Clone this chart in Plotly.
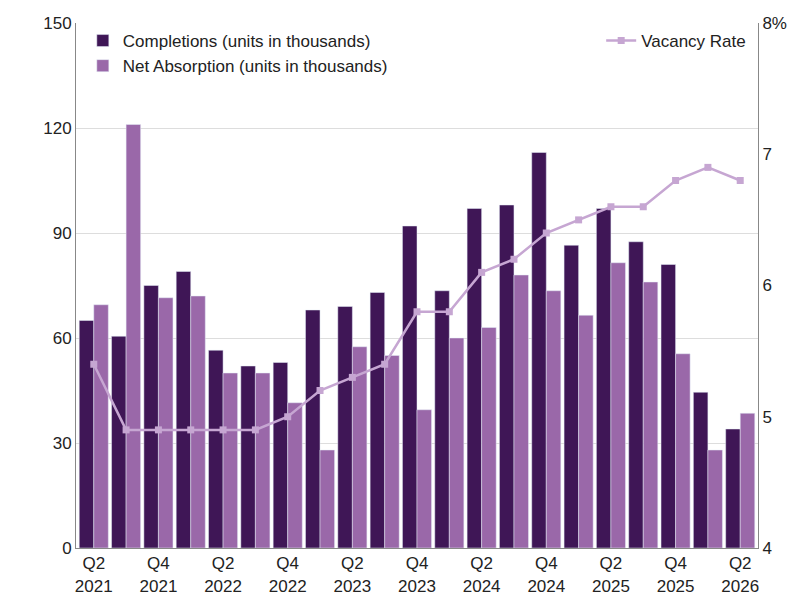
import plotly.graph_objects as go

quarters = ["Q2 2021","Q3 2021","Q4 2021","Q1 2022","Q2 2022","Q3 2022","Q4 2022",
            "Q1 2023","Q2 2023","Q3 2023","Q4 2023","Q1 2024","Q2 2024","Q3 2024",
            "Q4 2024","Q1 2025","Q2 2025","Q3 2025","Q4 2025","Q1 2026","Q2 2026"]
completions = [65,60.5,75,79,56.5,52,53,68,69,73,92,73.5,97,98,113,86.5,97,87.5,81,44.5,34]
absorption = [69.5,121,71.5,72,50,50,41.5,28,57.5,55,39.5,60,63,78,73.5,66.5,81.5,76,55.5,28,38.5]
vacancy = [5.4,4.9,4.9,4.9,4.9,4.9,5.0,5.2,5.3,5.4,5.8,5.8,6.1,6.2,6.4,6.5,6.6,6.6,6.8,6.9,6.8]

tickvals = quarters[::2]
ticktext = [q.replace(" ", "<br>") for q in tickvals]

fig = go.Figure()
fig.add_bar(x=quarters, y=completions, name="Completions (units in thousands)",
            marker_color="#3f1656", legend="legend")
fig.add_bar(x=quarters, y=absorption, name="Net Absorption (units in thousands)",
            marker_color="#9a68a9", legend="legend")
fig.add_scatter(x=quarters, y=vacancy, name="Vacancy Rate", yaxis="y2", mode="lines+markers",
                line=dict(color="#c6a6d2", width=2.5), marker=dict(symbol="square", size=7),
                legend="legend2")

font = dict(family="Liberation Sans, Arial", size=17, color="#222")
fig.update_layout(
    width=807, height=594, barmode="group", bargap=0.1, bargroupgap=0,
    plot_bgcolor="white", paper_bgcolor="white", font=font,
    margin=dict(l=68, r=57, t=15, b=54),
    xaxis=dict(tickmode="array", tickvals=tickvals, ticktext=ticktext, range=[-0.55, 20.55],
               showline=True, linecolor="#888", ticks="", tickfont=font, automargin=False),
    yaxis=dict(range=[0,150], dtick=30, showgrid=True, gridcolor="#ddd", automargin=False,
               showline=True, linecolor="#888", zeroline=False, tickfont=font),
    yaxis2=dict(range=[4,8], dtick=1, overlaying="y", side="right", showgrid=False, automargin=False,
                showline=True, linecolor="#888", tickvals=[4,5,6,7,8],
                ticktext=["4","5","6","7","8%"], tickfont=font),
    legend=dict(x=0.01, y=1.0, xanchor="left", yanchor="top", bgcolor="rgba(0,0,0,0)",
                font=dict(family="Liberation Sans, Arial", size=17), tracegroupgap=0),
    legend2=dict(x=0.99, y=1.0, xanchor="right", yanchor="top", bgcolor="rgba(0,0,0,0)",
                 font=dict(family="Liberation Sans, Arial", size=17)),
)
fig.write_html("out.html")
